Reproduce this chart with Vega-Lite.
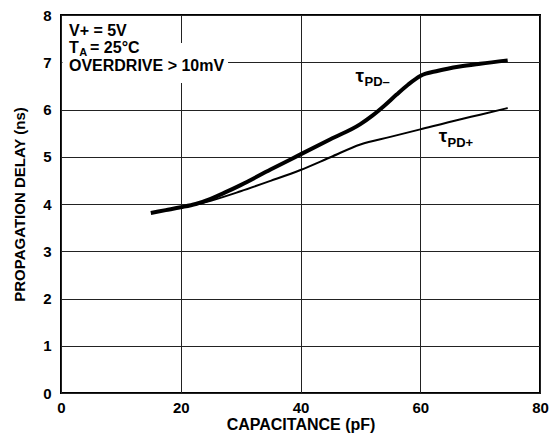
{
  "$schema": "https://vega.github.io/schema/vega-lite/v6.json",
  "autosize": "none",
  "padding": {"left": 61, "top": 15, "right": 13, "bottom": 47},
  "width": 479,
  "height": 378,
  "background": "white",
  "config": {
    "view": {"stroke": "black", "strokeWidth": 2},
    "font": "Liberation Sans",
    "axis": {
      "grid": true,
      "gridColor": "#222222",
      "gridOpacity": 1,
      "gridWidth": 1,
      "ticks": false,
      "domain": false,
      "labelFont": "Liberation Sans",
      "labelFontWeight": "bold",
      "labelFontSize": 15,
      "labelColor": "black",
      "labelFlush": false,
      "titleFont": "Liberation Sans",
      "titleFontWeight": "bold",
      "titleColor": "black"
    }
  },
  "datasets": {
    "curves": [
      {"c": 15, "v": 3.81, "series": "PD-"},
      {"c": 17.5, "v": 3.87, "series": "PD-"},
      {"c": 20, "v": 3.93, "series": "PD-"},
      {"c": 22.5, "v": 4.0, "series": "PD-"},
      {"c": 25, "v": 4.11, "series": "PD-"},
      {"c": 27.5, "v": 4.25, "series": "PD-"},
      {"c": 30, "v": 4.4, "series": "PD-"},
      {"c": 35, "v": 4.73, "series": "PD-"},
      {"c": 40, "v": 5.05, "series": "PD-"},
      {"c": 45, "v": 5.37, "series": "PD-"},
      {"c": 50, "v": 5.69, "series": "PD-"},
      {"c": 52, "v": 5.87, "series": "PD-"},
      {"c": 54, "v": 6.08, "series": "PD-"},
      {"c": 56, "v": 6.31, "series": "PD-"},
      {"c": 58, "v": 6.53, "series": "PD-"},
      {"c": 60, "v": 6.71, "series": "PD-"},
      {"c": 63, "v": 6.82, "series": "PD-"},
      {"c": 66.6, "v": 6.91, "series": "PD-"},
      {"c": 70, "v": 6.97, "series": "PD-"},
      {"c": 74.6, "v": 7.04, "series": "PD-"},
      {"c": 20, "v": 3.93, "series": "PD+"},
      {"c": 22.5, "v": 3.99, "series": "PD+"},
      {"c": 25, "v": 4.07, "series": "PD+"},
      {"c": 30, "v": 4.27, "series": "PD+"},
      {"c": 35, "v": 4.49, "series": "PD+"},
      {"c": 40, "v": 4.72, "series": "PD+"},
      {"c": 45, "v": 4.99, "series": "PD+"},
      {"c": 50, "v": 5.26, "series": "PD+"},
      {"c": 55, "v": 5.42, "series": "PD+"},
      {"c": 60, "v": 5.58, "series": "PD+"},
      {"c": 66.6, "v": 5.79, "series": "PD+"},
      {"c": 70, "v": 5.89, "series": "PD+"},
      {"c": 74.6, "v": 6.03, "series": "PD+"}
    ]
  },
  "layer": [
    {
      "data": {"name": "curves"},
      "mark": {"type": "line", "color": "black", "interpolate": "monotone", "strokeCap": "butt"},
      "encoding": {
        "x": {"field": "c", "type": "quantitative", "scale": {"domain": [0, 80]},
              "axis": {"values": [0, 20, 40, 60, 80], "title": "CAPACITANCE (pF)", "titleFontSize": 16, "labelPadding": 7, "titlePadding": 1}},
        "y": {"field": "v", "type": "quantitative", "scale": {"domain": [0, 8]},
              "axis": {"values": [0, 1, 2, 3, 4, 5, 6, 7, 8], "title": "PROPAGATION DELAY (ns)", "titleFontSize": 15, "labelPadding": 10, "titlePadding": 15}},
        "detail": {"field": "series"},
        "strokeWidth": {"field": "series", "type": "nominal", "scale": {"domain": ["PD-", "PD+"], "range": [4, 2]}, "legend": null}
      }
    },
    {
      "data": {"values": [{"x0": 0.25, "x1": 27.9, "y0": 6.56, "y1": 7.41}]},
      "mark": {"type": "rect", "fill": "white", "stroke": null},
      "encoding": {
        "x": {"field": "x0", "type": "quantitative"},
        "x2": {"field": "x1"},
        "y": {"field": "y0", "type": "quantitative"},
        "y2": {"field": "y1"}
      }
    },
    {
      "data": {"values": [
        {"t": "V+ = 5V", "x": 1.33, "y": 7.66},
        {"t": "T", "x": 1.33, "y": 7.3},
        {"t": "= 25°C", "x": 4.85, "y": 7.3},
        {"t": "OVERDRIVE > 10mV", "x": 1.33, "y": 6.92}
      ]},
      "mark": {"type": "text", "align": "left", "baseline": "middle", "fontSize": 16, "fontWeight": "bold", "color": "black", "font": "Liberation Sans"},
      "encoding": {
        "x": {"field": "x", "type": "quantitative"},
        "y": {"field": "y", "type": "quantitative"},
        "text": {"field": "t"}
      }
    },
    {
      "data": {"values": [{"t": "A", "x": 3.05, "y": 7.2}]},
      "mark": {"type": "text", "align": "left", "baseline": "middle", "fontSize": 11, "fontWeight": "bold", "color": "black", "font": "Liberation Sans"},
      "encoding": {
        "x": {"field": "x", "type": "quantitative"},
        "y": {"field": "y", "type": "quantitative"},
        "text": {"field": "t"}
      }
    },
    {
      "data": {"values": [{"t": "τ", "x": 49.9, "y": 6.71}, {"t": "τ", "x": 63.8, "y": 5.44}]},
      "mark": {"type": "text", "align": "center", "baseline": "middle", "fontSize": 19, "fontWeight": "bold", "color": "black", "font": "Liberation Sans"},
      "encoding": {
        "x": {"field": "x", "type": "quantitative"},
        "y": {"field": "y", "type": "quantitative"},
        "text": {"field": "t"}
      }
    },
    {
      "data": {"values": [{"t": "PD–", "x": 52.8, "y": 6.58}, {"t": "PD+", "x": 66.7, "y": 5.3}]},
      "mark": {"type": "text", "align": "center", "baseline": "middle", "fontSize": 13, "fontWeight": "bold", "color": "black", "font": "Liberation Sans"},
      "encoding": {
        "x": {"field": "x", "type": "quantitative"},
        "y": {"field": "y", "type": "quantitative"},
        "text": {"field": "t"}
      }
    }
  ]
}
